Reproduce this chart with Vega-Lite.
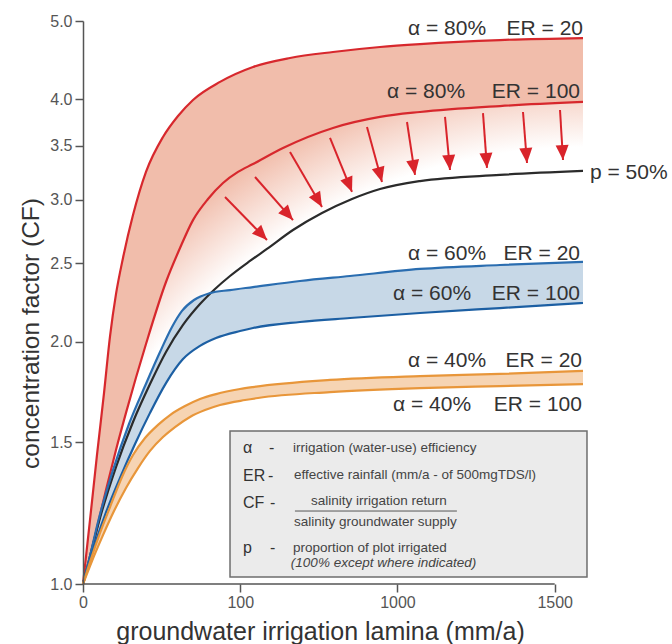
{
  "$schema": "https://vega.github.io/schema/vega-lite/v6.json",
  "width": 500,
  "height": 563,
  "autosize": {"type": "none"},
  "padding": {"left": 83, "top": 21, "right": 89, "bottom": 60},
  "background": "white",
  "config": {"font": "Liberation Sans", "view": {"stroke": null}},
  "datasets": {
    "curves": [
      {"c": "r20", "x": 0, "y": 1}, {"c": "r20", "x": 22.3, "y": 1.201}, {"c": "r20", "x": 44.5, "y": 1.446}, {"c": "r20", "x": 66.8, "y": 1.726}, {"c": "r20", "x": 85.9, "y": 2.03}, {"c": "r20", "x": 104.9, "y": 2.29}, {"c": "r20", "x": 127.2, "y": 2.54}, {"c": "r20", "x": 159, "y": 2.871}, {"c": "r20", "x": 200.3, "y": 3.248}, {"c": "r20", "x": 254.4, "y": 3.589}, {"c": "r20", "x": 302.1, "y": 3.811}, {"c": "r20", "x": 349.8, "y": 3.99}, {"c": "r20", "x": 435.7, "y": 4.201}, {"c": "r20", "x": 540.6, "y": 4.384}, {"c": "r20", "x": 658.3, "y": 4.498}, {"c": "r20", "x": 795, "y": 4.576}, {"c": "r20", "x": 944.5, "y": 4.642}, {"c": "r20", "x": 1071.7, "y": 4.681}, {"c": "r20", "x": 1326, "y": 4.735}, {"c": "r20", "x": 1590, "y": 4.762},
      {"c": "r100", "x": 0, "y": 1}, {"c": "r100", "x": 15.9, "y": 1.05}, {"c": "r100", "x": 44.5, "y": 1.174}, {"c": "r100", "x": 73.1, "y": 1.308}, {"c": "r100", "x": 104.9, "y": 1.467}, {"c": "r100", "x": 136.7, "y": 1.631}, {"c": "r100", "x": 200.3, "y": 1.986}, {"c": "r100", "x": 263.9, "y": 2.371}, {"c": "r100", "x": 308.5, "y": 2.613}, {"c": "r100", "x": 349.8, "y": 2.83}, {"c": "r100", "x": 397.5, "y": 3.006}, {"c": "r100", "x": 445.2, "y": 3.147}, {"c": "r100", "x": 492.9, "y": 3.248}, {"c": "r100", "x": 540.6, "y": 3.322}, {"c": "r100", "x": 636, "y": 3.478}, {"c": "r100", "x": 795, "y": 3.683}, {"c": "r100", "x": 944.5, "y": 3.801}, {"c": "r100", "x": 1071.7, "y": 3.855}, {"c": "r100", "x": 1326, "y": 3.921}, {"c": "r100", "x": 1590, "y": 3.967},
      {"c": "p50", "x": 0, "y": 1}, {"c": "p50", "x": 22.3, "y": 1.083}, {"c": "p50", "x": 54.1, "y": 1.208}, {"c": "p50", "x": 104.9, "y": 1.397}, {"c": "p50", "x": 159, "y": 1.589}, {"c": "p50", "x": 213.1, "y": 1.771}, {"c": "p50", "x": 263.9, "y": 1.941}, {"c": "p50", "x": 318, "y": 2.097}, {"c": "p50", "x": 372, "y": 2.226}, {"c": "p50", "x": 419.8, "y": 2.324}, {"c": "p50", "x": 467.5, "y": 2.412}, {"c": "p50", "x": 531, "y": 2.518}, {"c": "p50", "x": 585, "y": 2.606}, {"c": "p50", "x": 667.8, "y": 2.751}, {"c": "p50", "x": 760, "y": 2.888}, {"c": "p50", "x": 855.4, "y": 3.006}, {"c": "p50", "x": 944.5, "y": 3.093}, {"c": "p50", "x": 1071.7, "y": 3.164}, {"c": "p50", "x": 1326, "y": 3.22}, {"c": "p50", "x": 1590, "y": 3.257},
      {"c": "b20", "x": 0, "y": 1}, {"c": "b20", "x": 22.3, "y": 1.083}, {"c": "b20", "x": 47.7, "y": 1.194}, {"c": "b20", "x": 95.4, "y": 1.385}, {"c": "b20", "x": 146.3, "y": 1.58}, {"c": "b20", "x": 197.2, "y": 1.761}, {"c": "b20", "x": 244.9, "y": 1.941}, {"c": "b20", "x": 283, "y": 2.085}, {"c": "b20", "x": 314.8, "y": 2.183}, {"c": "b20", "x": 353, "y": 2.252}, {"c": "b20", "x": 403.9, "y": 2.297}, {"c": "b20", "x": 467.5, "y": 2.317}, {"c": "b20", "x": 540.6, "y": 2.337}, {"c": "b20", "x": 690, "y": 2.378}, {"c": "b20", "x": 849, "y": 2.412}, {"c": "b20", "x": 1071.7, "y": 2.461}, {"c": "b20", "x": 1326, "y": 2.489}, {"c": "b20", "x": 1590, "y": 2.511},
      {"c": "b100", "x": 0, "y": 1}, {"c": "b100", "x": 28.6, "y": 1.093}, {"c": "b100", "x": 70, "y": 1.218}, {"c": "b100", "x": 117.7, "y": 1.354}, {"c": "b100", "x": 165.4, "y": 1.492}, {"c": "b100", "x": 213.1, "y": 1.631}, {"c": "b100", "x": 263.9, "y": 1.776}, {"c": "b100", "x": 318, "y": 1.902}, {"c": "b100", "x": 372, "y": 1.975}, {"c": "b100", "x": 423, "y": 2.02}, {"c": "b100", "x": 499.3, "y": 2.061}, {"c": "b100", "x": 540.6, "y": 2.079}, {"c": "b100", "x": 690, "y": 2.115}, {"c": "b100", "x": 849, "y": 2.139}, {"c": "b100", "x": 1071.7, "y": 2.17}, {"c": "b100", "x": 1326, "y": 2.201}, {"c": "b100", "x": 1590, "y": 2.233},
      {"c": "o20", "x": 0, "y": 1}, {"c": "o20", "x": 22.3, "y": 1.065}, {"c": "o20", "x": 54.1, "y": 1.157}, {"c": "o20", "x": 85.9, "y": 1.246}, {"c": "o20", "x": 124, "y": 1.358}, {"c": "o20", "x": 159, "y": 1.446}, {"c": "o20", "x": 197.2, "y": 1.518}, {"c": "o20", "x": 238.5, "y": 1.576}, {"c": "o20", "x": 276.7, "y": 1.621}, {"c": "o20", "x": 324.4, "y": 1.663}, {"c": "o20", "x": 372, "y": 1.697}, {"c": "o20", "x": 423, "y": 1.721}, {"c": "o20", "x": 499.3, "y": 1.746}, {"c": "o20", "x": 540.6, "y": 1.756}, {"c": "o20", "x": 785.5, "y": 1.792}, {"c": "o20", "x": 1071.7, "y": 1.812}, {"c": "o20", "x": 1326, "y": 1.823}, {"c": "o20", "x": 1590, "y": 1.839},
      {"c": "o100", "x": 0, "y": 1}, {"c": "o100", "x": 28.6, "y": 1.068}, {"c": "o100", "x": 63.6, "y": 1.15}, {"c": "o100", "x": 98.6, "y": 1.232}, {"c": "o100", "x": 136.7, "y": 1.316}, {"c": "o100", "x": 174.9, "y": 1.393}, {"c": "o100", "x": 213.1, "y": 1.463}, {"c": "o100", "x": 254.4, "y": 1.522}, {"c": "o100", "x": 292.6, "y": 1.566}, {"c": "o100", "x": 340.3, "y": 1.612}, {"c": "o100", "x": 388, "y": 1.644}, {"c": "o100", "x": 435.7, "y": 1.668}, {"c": "o100", "x": 515.2, "y": 1.692}, {"c": "o100", "x": 556.5, "y": 1.702}, {"c": "o100", "x": 785.5, "y": 1.731}, {"c": "o100", "x": 1071.7, "y": 1.751}, {"c": "o100", "x": 1326, "y": 1.761}, {"c": "o100", "x": 1590, "y": 1.771}
    ],
    "arrows": [
      {"x": 451.6, "y": 3.023, "xe": 585.1, "ye": 2.674, "ang": -44},
      {"x": 547, "y": 3.201, "xe": 667.8, "ye": 2.83, "ang": -41.5},
      {"x": 658.3, "y": 3.438, "xe": 760, "ye": 2.938, "ang": -30},
      {"x": 785.5, "y": 3.579, "xe": 855.4, "ye": 3.067, "ang": -22},
      {"x": 903.1, "y": 3.693, "xe": 950.8, "ye": 3.156, "ang": -15},
      {"x": 1030.3, "y": 3.746, "xe": 1055.8, "ye": 3.22, "ang": -9},
      {"x": 1151.2, "y": 3.801, "xe": 1167, "ye": 3.266, "ang": -5},
      {"x": 1272, "y": 3.843, "xe": 1284.7, "ye": 3.285, "ang": -4},
      {"x": 1399.2, "y": 3.855, "xe": 1411.9, "ye": 3.332, "ang": -4.5},
      {"x": 1516.9, "y": 3.877, "xe": 1526.4, "ye": 3.36, "ang": -3.4}
    ],
    "labels": [
      {"x": 1033.5, "y": 4.805, "t": "α = 80%", "side": "L"},
      {"x": 1590, "y": 4.805, "t": "ER = 20", "side": "R"},
      {"x": 966.7, "y": 4.012, "t": "α = 80%", "side": "L"},
      {"x": 1580.5, "y": 4.012, "t": "ER = 100", "side": "R"},
      {"x": 1612.3, "y": 3.183, "t": "p = 50%", "side": "L"},
      {"x": 1033.5, "y": 2.525, "t": "α = 60%", "side": "L"},
      {"x": 1580.5, "y": 2.525, "t": "ER = 20", "side": "R"},
      {"x": 985.8, "y": 2.252, "t": "α = 60%", "side": "L"},
      {"x": 1580.5, "y": 2.252, "t": "ER = 100", "side": "R"},
      {"x": 1033.5, "y": 1.859, "t": "α = 40%", "side": "L"},
      {"x": 1586.8, "y": 1.859, "t": "ER = 20", "side": "R"},
      {"x": 985.8, "y": 1.64, "t": "α = 40%", "side": "L"},
      {"x": 1586.8, "y": 1.64, "t": "ER = 100", "side": "R"}
    ],
    "legsym": [
      {"x": 508.8, "y": 1.454, "t": "α"},
      {"x": 508.8, "y": 1.342, "t": "ER"},
      {"x": 508.8, "y": 1.243, "t": "CF"},
      {"x": 508.8, "y": 1.093, "t": "p"},
      {"x": 591.5, "y": 1.454, "t": "-"},
      {"x": 588.3, "y": 1.342, "t": "-"},
      {"x": 594.7, "y": 1.243, "t": "-"},
      {"x": 594.7, "y": 1.093, "t": "-"}
    ],
    "legdesc": [
      {"x": 667.8, "y": 1.458, "t": "irrigation (water-use) efficiency"},
      {"x": 671, "y": 1.35, "t": "effective rainfall (mm/a - of 500mgTDS/l)"},
      {"x": 725, "y": 1.254, "t": "salinity irrigation return"},
      {"x": 671, "y": 1.18, "t": "salinity groundwater supply"},
      {"x": 667.8, "y": 1.096, "t": "proportion of plot irrigated"}
    ],
    "legnote": [
      {"x": 661, "y": 1.05, "t": "(100% except where indicated)"}
    ],
    "box": [{"x": 467.5, "x2": 1602.7, "y": 1.549, "y2": 1.02}],
    "bar": [{"x": 674, "x2": 1189, "y": 1.232}],
    "xline": [{"x": 0, "x2": 1500, "y": 1}]
  },
  "layer": [
    {"data": {"name": "curves"}, "transform": [{"filter": "datum.c == 'r20'"}],
     "mark": {"type": "area", "interpolate": "monotone", "color": "#f1bdab"},
     "encoding": {
       "x": {
         "field": "x", "type": "quantitative",
         "scale": {"domain": [0, 1590], "nice": false, "zero": false},
         "axis": {
           "values": [0, 500, 1000, 1500], "format": "d",
           "labelExpr": "datum.value == 500 ? '100' : datum.label",
           "labelFlush": false,
           "domain": false, "grid": false, "tickSize": 8, "tickWidth": 1.5, "tickColor": "#555",
           "labelFontSize": 16, "labelColor": "#555", "labelPadding": 2,
           "title": "groundwater irrigation lamina (mm/a)", "titleFontSize": 25, "titleFontWeight": "normal",
           "titleColor": "#333", "titleX": 237, "titleY": 55, "titleAlign": "center", "titleBaseline": "alphabetic",
           "zindex": 1
         }
       },
       "y": {
         "field": "y", "type": "quantitative",
         "scale": {"type": "log", "domain": [1, 5], "nice": false},
         "axis": {
           "values": [1, 1.5, 2, 2.5, 3, 3.5, 4, 5], "format": ".1f",
           "labelFlush": false,
           "grid": false, "tickSize": 8, "tickWidth": 1.5, "tickColor": "#555",
           "domainColor": "#555", "domainWidth": 1.5,
           "labelFontSize": 16, "labelColor": "#555", "labelPadding": 3,
           "title": "concentration factor (CF)", "titleFontSize": 24.5, "titleFontWeight": "normal",
           "titleColor": "#333", "titleX": -45, "titleY": 312, "titleAngle": 270, "titleAlign": "center", "titleBaseline": "alphabetic",
           "zindex": 1
         }
       },
       "y2": {"datum": 1}
     }},
    {"data": {"name": "curves"}, "transform": [{"filter": "datum.c == 'r100'"}],
     "mark": {"type": "area", "interpolate": "monotone",
       "color": {"gradient": "radial", "x1": 1, "y1": 1.2, "r1": 0, "x2": 1, "y2": 1.2, "r2": 1.3,
         "stops": [{"offset": 0, "color": "#ffffff"}, {"offset": 0.84, "color": "#ffffff"}, {"offset": 0.96, "color": "#f1bdab"}, {"offset": 1, "color": "#f1bdab"}]}},
     "encoding": {"x": {"field": "x", "type": "quantitative"}, "y": {"field": "y", "type": "quantitative", "scale": {"type": "log"}}, "y2": {"datum": 1}}},
    {"data": {"name": "curves"}, "transform": [{"filter": "datum.c == 'p50'"}],
     "mark": {"type": "area", "interpolate": "monotone", "color": "#ffffff"},
     "encoding": {"x": {"field": "x", "type": "quantitative"}, "y": {"field": "y", "type": "quantitative", "scale": {"type": "log"}}, "y2": {"datum": 1}}},
    {"data": {"name": "curves"}, "transform": [{"filter": "datum.c == 'b20'"}],
     "mark": {"type": "area", "interpolate": "monotone", "color": "#c7d8e7"},
     "encoding": {"x": {"field": "x", "type": "quantitative"}, "y": {"field": "y", "type": "quantitative", "scale": {"type": "log"}}, "y2": {"datum": 1}}},
    {"data": {"name": "curves"}, "transform": [{"filter": "datum.c == 'b100'"}],
     "mark": {"type": "area", "interpolate": "monotone", "color": "#ffffff"},
     "encoding": {"x": {"field": "x", "type": "quantitative"}, "y": {"field": "y", "type": "quantitative", "scale": {"type": "log"}}, "y2": {"datum": 1}}},
    {"data": {"name": "curves"}, "transform": [{"filter": "datum.c == 'o20'"}],
     "mark": {"type": "area", "interpolate": "monotone", "color": "#f6d4b3"},
     "encoding": {"x": {"field": "x", "type": "quantitative"}, "y": {"field": "y", "type": "quantitative", "scale": {"type": "log"}}, "y2": {"datum": 1}}},
    {"data": {"name": "curves"}, "transform": [{"filter": "datum.c == 'o100'"}],
     "mark": {"type": "area", "interpolate": "monotone", "color": "#ffffff"},
     "encoding": {"x": {"field": "x", "type": "quantitative"}, "y": {"field": "y", "type": "quantitative", "scale": {"type": "log"}}, "y2": {"datum": 1}}},
    {"data": {"name": "curves"},
     "mark": {"type": "line", "interpolate": "monotone", "strokeWidth": 2.2},
     "encoding": {
       "x": {"field": "x", "type": "quantitative"},
       "y": {"field": "y", "type": "quantitative", "scale": {"type": "log"}},
       "detail": {"field": "c"},
       "color": {"field": "c", "type": "nominal", "legend": null,
         "scale": {"domain": ["r20", "r100", "p50", "b20", "b100", "o20", "o100"],
                   "range": ["#d7282d", "#d7282d", "#2b2b2b", "#2a6db0", "#1c5fa3", "#e8963a", "#e8963a"]}}
     }},
    {"data": {"name": "arrows"},
     "mark": {"type": "rule", "color": "#d9242b", "strokeWidth": 2},
     "encoding": {
       "x": {"field": "x", "type": "quantitative"},
       "y": {"field": "y", "type": "quantitative", "scale": {"type": "log"}},
       "x2": {"field": "xe"}, "y2": {"field": "ye"}}},
    {"data": {"name": "arrows"},
     "mark": {"type": "point", "shape": "M-1.3,-3L0,0L1.3,-3Z", "filled": true, "size": 100, "color": "#d9242b", "opacity": 1, "strokeWidth": 0},
     "encoding": {
       "x": {"field": "xe", "type": "quantitative"},
       "y": {"field": "ye", "type": "quantitative", "scale": {"type": "log"}},
       "angle": {"field": "ang", "type": "quantitative", "scale": null}
     }},
    {"data": {"name": "labels"}, "transform": [{"filter": "datum.side == 'L'"}],
     "mark": {"type": "text", "align": "left", "baseline": "alphabetic", "fontSize": 21, "color": "#333"},
     "encoding": {
       "x": {"field": "x", "type": "quantitative"},
       "y": {"field": "y", "type": "quantitative", "scale": {"type": "log"}},
       "text": {"field": "t"}}},
    {"data": {"name": "labels"}, "transform": [{"filter": "datum.side == 'R'"}],
     "mark": {"type": "text", "align": "right", "baseline": "alphabetic", "fontSize": 21, "color": "#333"},
     "encoding": {
       "x": {"field": "x", "type": "quantitative"},
       "y": {"field": "y", "type": "quantitative", "scale": {"type": "log"}},
       "text": {"field": "t"}}},
    {"data": {"name": "box"},
     "mark": {"type": "rect", "fill": "#ebebeb", "stroke": "#6e6e6e", "strokeWidth": 1.5},
     "encoding": {
       "x": {"field": "x", "type": "quantitative"},
       "x2": {"field": "x2"},
       "y": {"field": "y", "type": "quantitative", "scale": {"type": "log"}},
       "y2": {"field": "y2"}
     }},
    {"data": {"name": "bar"},
     "mark": {"type": "rule", "color": "#555", "strokeWidth": 1},
     "encoding": {
       "x": {"field": "x", "type": "quantitative"},
       "x2": {"field": "x2"},
       "y": {"field": "y", "type": "quantitative", "scale": {"type": "log"}}
     }},
    {"data": {"name": "legsym"},
     "mark": {"type": "text", "align": "left", "baseline": "alphabetic", "fontSize": 16, "color": "#333"},
     "encoding": {
       "x": {"field": "x", "type": "quantitative"},
       "y": {"field": "y", "type": "quantitative", "scale": {"type": "log"}},
       "text": {"field": "t"}}},
    {"data": {"name": "legdesc"},
     "mark": {"type": "text", "align": "left", "baseline": "alphabetic", "fontSize": 13.5, "color": "#444"},
     "encoding": {
       "x": {"field": "x", "type": "quantitative"},
       "y": {"field": "y", "type": "quantitative", "scale": {"type": "log"}},
       "text": {"field": "t"}}},
    {"data": {"name": "legnote"},
     "mark": {"type": "text", "align": "left", "baseline": "alphabetic", "fontSize": 13.5, "fontStyle": "italic", "color": "#444"},
     "encoding": {
       "x": {"field": "x", "type": "quantitative"},
       "y": {"field": "y", "type": "quantitative", "scale": {"type": "log"}},
       "text": {"field": "t"}}},
    {"data": {"name": "xline"},
     "mark": {"type": "rule", "color": "#555", "strokeWidth": 1.5},
     "encoding": {
       "x": {"field": "x", "type": "quantitative"},
       "x2": {"field": "x2"},
       "y": {"field": "y", "type": "quantitative", "scale": {"type": "log"}}
     }}
  ]
}
